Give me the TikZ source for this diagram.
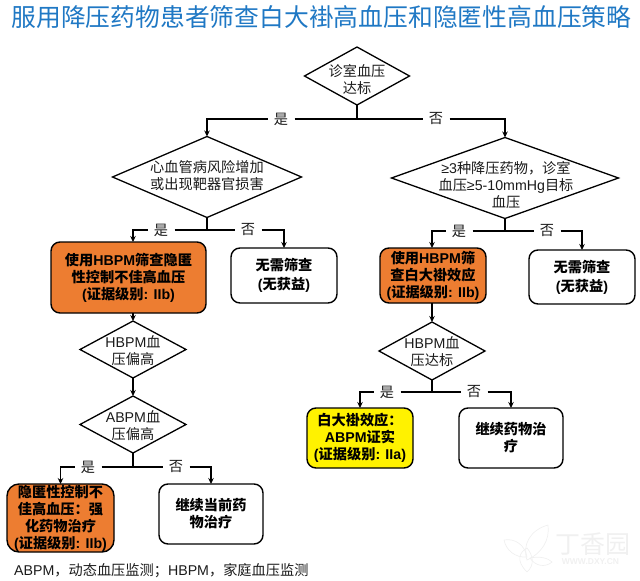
\documentclass[tikz,border=0pt]{standalone}
\usepackage{fontspec}
\setmainfont{Noto Sans CJK SC}
\newfontfamily\lat{Liberation Sans}
\usetikzlibrary{shapes.geometric,arrows.meta}
\definecolor{titleblue}{HTML}{1F78C4}
\definecolor{boxorange}{HTML}{ED7D31}
\definecolor{ink}{HTML}{1A1A1A}
\tikzset{
  dia/.style={diamond,draw=black,line width=1.3pt,inner sep=0pt,outer sep=0pt},
  diatext/.style={align=center,text=ink,inner sep=0pt,font=\fontsize{14.2}{17}\selectfont},
  rbox/.style={rectangle,rounded corners=9pt,draw=black,line width=1.4pt,inner sep=0pt,outer sep=0pt,align=center,
    font=\fontsize{14.2}{17}\selectfont\bfseries},
  orangebox/.style={rbox,fill=boxorange},
  yellowbox/.style={rbox,fill=yellow},
  whitebox/.style={rbox,fill=white},
  lab/.style={inner sep=0pt,outer sep=0pt,minimum width=27pt,minimum height=14pt,text=ink,font=\fontsize{14.2}{16}\selectfont},
  link/.style={line width=1.3pt,draw=black},
  arr/.style={link,-{Stealth[length=6pt,width=5.5pt]}},
  wmline/.style={draw=black!6,line width=0.7pt}
}
\begin{document}
\begin{tikzpicture}[x=1pt,y=-1pt]
\useasboundingbox (0,0) rectangle (640,581);
% title
\node[inner sep=0pt,text=titleblue,font=\fontsize{24.8}{28}\selectfont] (title) at (321.5,17.5) {服用降压药物患者筛查白大褂高血压和隐匿性高血压策略};
% watermark
\draw[wmline] (527,572) .. controls (515,560) and (520,552) .. (527,548) .. controls (533,555) and (535,565) .. (527,572);
\draw[wmline] (504,540) .. controls (515,538) and (525,545) .. (527,557) .. controls (515,558) and (506,550) .. (504,540);
\draw[wmline] (548,525) .. controls (530,530) and (522,545) .. (527,560) .. controls (542,553) and (550,540) .. (548,525);
\draw[wmline] (530,558) .. controls (540,556) and (548,558) .. (552,562) .. controls (545,568) and (535,566) .. (530,558);
\node[inner sep=0pt,text=black!6,font=\fontsize{25}{28}\selectfont] (wmname) at (592.5,544) {丁香园};
\node[inner sep=0pt,text=black!6,font=\fontsize{8.5}{10}\selectfont\bfseries\lat] (wmurl) at (590.5,562) {WWW.DXY.CN};
% diamonds
\node[dia,minimum width=105pt,minimum height=58pt] (d1) at (357,76) {};
\node[dia,minimum width=189pt,minimum height=81pt] (d2) at (207,177) {};
\node[dia,minimum width=227pt,minimum height=81pt] (d3) at (505,178) {};
\node[dia,minimum width=106pt,minimum height=57pt] (d4) at (133,349.5) {};
\node[dia,minimum width=106pt,minimum height=57pt] (d5) at (133,424.5) {};
\node[dia,minimum width=106pt,minimum height=58pt] (d6) at (432,351) {};
\node[diatext] (t1) at (357,79.5) {诊室血压\\达标};
\node[diatext] (t2) at (207,175.5) {心血管病风险增加\\或出现靶器官损害};
\node[diatext] (t3) at (506,185) {{\lat ≥3}种降压药物，诊室\\血压{\lat ≥5-10mmHg}目标\\血压};
\node[diatext] (t4) at (133,350.5) {{\lat HBPM}血\\压偏高};
\node[diatext] (t5) at (133,425.5) {{\lat ABPM}血\\压偏高};
\node[diatext] (t6) at (432,351.5) {{\lat HBPM}血\\压达标};
% boxes
\node[orangebox,minimum width=155pt,minimum height=71pt] (b1) at (128.5,277.5) {使用{\lat HBPM}筛查隐匿\\性控制不佳高血压\\{\lat (}证据级别{\lat : IIb)}};
\node[whitebox,minimum width=106pt,minimum height=55pt,font=\fontsize{14.2}{19}\selectfont\bfseries] (b2) at (284,275.5) {无需筛查\\{\lat (}无获益{\lat )}};
\node[orangebox,minimum width=106pt,minimum height=55pt] (b3) at (433,275.5) {使用{\lat HBPM}筛\\查白大褂效应\\{\lat (}证据级别{\lat : IIb)}};
\node[whitebox,minimum width=106pt,minimum height=54pt,font=\fontsize{14.2}{19}\selectfont\bfseries] (b4) at (582,277) {无需筛查\\{\lat (}无获益{\lat )}};
\node[orangebox,rounded corners=12pt,minimum width=107pt,minimum height=68pt] (b5) at (60.5,518) {隐匿性控制不\\佳高血压：强\\化药物治疗\\{\lat (}证据级别{\lat : IIb)}};
\node[whitebox,minimum width=104pt,minimum height=60pt] (b6) at (211,514) {继续当前药\\物治疗};
\node[yellowbox,minimum width=106pt,minimum height=60pt] (b7) at (360,438) {白大褂效应：\\{\lat ABPM}证实\\{\lat (}证据级别{\lat : IIa)}};
\node[whitebox,minimum width=104pt,minimum height=60pt] (b8) at (511,438) {继续药物治\\疗};
% labels
\node[lab] (y1) at (281,119) {是};
\node[lab] (n1) at (436,119) {否};
\node[lab] (y2) at (161,230) {是};
\node[lab] (n2) at (248,230) {否};
\node[lab] (y3) at (459,231) {是};
\node[lab] (n3) at (547,231) {否};
\node[lab] (y4) at (88,467) {是};
\node[lab] (n4) at (176,467) {否};
\node[lab] (y5) at (387,392) {是};
\node[lab] (n5) at (474,392) {否};
% junctions
\coordinate (j1) at (d1.south |- y1);
\coordinate (j2) at (d2.south |- y2);
\coordinate (j3) at (d3.south |- y3);
\coordinate (j4) at (d5.south |- y4);
\coordinate (j5) at (d6.south |- y5);
% connectors
\draw[link] (d1.south) -- (j1) (y1) -- (j1) -- (n1);
\draw[arr] (y1) -| (d2.north);
\draw[arr] (n1) -| (d3.north);
\draw[link] (d2.south) -- (j2) (y2) -- (j2) -- (n2);
\draw[arr] (y2) -| (d4.north |- b1.north);
\draw[arr] (n2) -| (b2.north);
\draw[link] (d3.south) -- (j3) (y3) -- (j3) -- (n3);
\draw[arr] (y3) -| (d6.north |- b3.north);
\draw[arr] (n3) -| (b4.north);
\draw[arr] (d4.north |- b1.south) -- (d4.north);
\draw[arr] (d6.north |- b3.south) -- (d6.north);
\draw[arr] (d4.south) -- (d5.north);
\draw[link] (d5.south) -- (j4) (y4) -- (j4) -- (n4);
\draw[arr] (y4) -| (b5.north);
\draw[arr] (n4) -| (b6.north);
\draw[link] (d6.south) -- (j5) (y5) -- (j5) -- (n5);
\draw[arr] (y5) -| (b7.north);
\draw[arr] (n5) -| (b8.north);
% caption
\node[anchor=west,inner sep=0pt,text=ink,font=\fontsize{14.2}{16}\selectfont] (cap) at (14,571) {{\lat ABPM}，动态血压监测；{\lat HBPM}，家庭血压监测};
\end{tikzpicture}
\end{document}
